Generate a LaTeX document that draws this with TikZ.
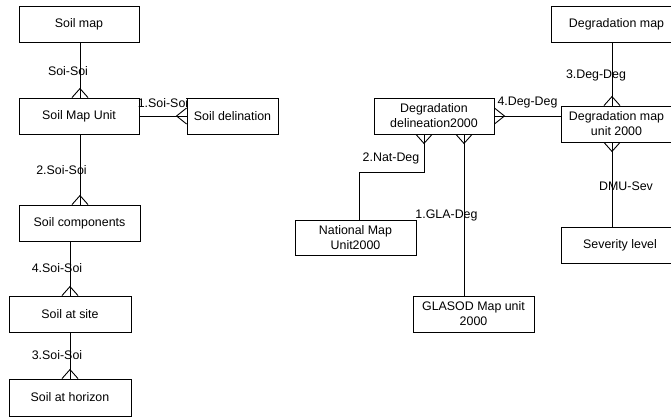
\documentclass[tikz,border=0pt]{standalone}
\usepackage{fontspec}
\setmainfont{Liberation Sans}
\usetikzlibrary{calc}
% crow's feet at a box edge; the toe points away from the box
\newcommand\footup[1]{\draw ($(#1)+(-8,0)$) -- ($(#1)+(0,-9)$) -- ($(#1)+(8,0)$);}
\newcommand\footdown[1]{\draw ($(#1)+(-8,0)$) -- ($(#1)+(0,9)$) -- ($(#1)+(8,0)$);}
\newcommand\footleft[1]{\draw ($(#1)+(0,-8)$) -- ($(#1)+(-10,0)$) -- ($(#1)+(0,8)$);}
\newcommand\footright[1]{\draw ($(#1)+(0,-8)$) -- ($(#1)+(10,0)$) -- ($(#1)+(0,8)$);}
\begin{document}
\begin{tikzpicture}[x=1pt,y=-1pt,line width=0.9pt,
  every node/.style={font=\fontsize{12.4}{15}\selectfont},
  entity/.style={draw,rectangle,inner sep=0pt,align=center,minimum height=36pt},
  lab/.style={inner sep=0pt}]
\useasboundingbox (0,0) rectangle (671,417);

% soil side
\node[entity,minimum width=120pt] (smap) at (79,24) {Soil map};
\node[entity,minimum width=120pt] (smu) at (79,116) {Soil Map Unit};
\node[entity,minimum width=91pt] (sdel) at (232.5,116) {Soil delination};
\node[entity,minimum width=121pt] (scomp) at (79.5,223) {Soil components};
\node[entity,minimum width=122pt] (ssite) at (70,314) {Soil at site};
\node[entity,minimum width=122pt,minimum height=37pt] (shor) at (70,397.5) {Soil at horizon};

% degradation side
\node[entity,minimum width=131pt] (dmap) at (616.5,24) {Degradation map};
\node[entity,minimum width=111pt] (dmu) at (616.5,124) {Degradation map\\unit 2000};
\node[entity,minimum width=120pt] (ddel) at (434,116) {Degradation\\delineation2000};
\node[entity,minimum width=121pt,minimum height=35pt] (nmu) at (355.5,237.5) {National Map\\Unit2000};
\node[entity,minimum width=121pt] (gmu) at (473.5,314) {GLASOD Map unit\\2000};
\node[entity,minimum width=118pt] (sev) at (620,245) {Severity level};

% connection points
\coordinate (smapB) at ($(smap.south)+(1,0)$);
\coordinate (smuT) at (smapB |- smu.north);
\coordinate (smuB) at (smapB |- smu.south);
\coordinate (scompT) at (smapB |- scomp.north);
\coordinate (scompB) at (ssite.north |- scomp.south);
\coordinate (dmapB) at ($(dmap.south)+(-4.5,0)$);
\coordinate (dmuT) at (dmapB |- dmu.north);
\coordinate (dmuB) at (dmapB |- dmu.south);
\coordinate (sevT) at (dmapB |- sev.north);
\coordinate (ddelB1) at ($(ddel.south)+(-10,0)$);
\coordinate (ddelB2) at ($(ddel.south)+(30,0)$);
\coordinate (bend1) at ($(ddelB1)+(0,38)$);
\coordinate (nmuT) at ($(nmu.north)+(3.5,0)$);
\coordinate (gmuT) at (ddelB2 |- gmu.north);
\coordinate (dmuL) at (dmu.west |- ddel.east);

% soil relationships
\draw (smapB) -- (smuT); \footup{smuT}
\draw (smu.east) -- (sdel.west); \footleft{sdel.west}
\draw (smuB) -- (scompT); \footup{scompT}
\draw (scompB) -- (ssite.north); \footup{ssite.north}
\draw (ssite.south) -- (shor.north); \footup{shor.north}

% degradation relationships
\draw (dmapB) -- (dmuT); \footup{dmuT}
\draw (ddel.east) -- (dmuL); \footright{ddel.east}
\draw (ddelB1) -- (bend1) -| (nmuT); \footdown{ddelB1}
\draw (ddelB2) -- (gmuT); \footdown{ddelB2}
\draw (dmuB) -- (sevT); \footdown{dmuB}

% relationship labels
\node[lab] (l1) at (68,71) {Soi-Soi};
\node[lab] (l2) at (163,103) {1.Soi-Soi};
\node[lab] (l3) at (61.5,170) {2.Soi-Soi};
\node[lab] (l4) at (57,268) {4.Soi-Soi};
\node[lab] (l5) at (57,355) {3.Soi-Soi};
\node[lab] (l6) at (596,75) {3.Deg-Deg};
\node[lab] (l7) at (527.5,103) {4.Deg-Deg};
\node[lab] (l8) at (391,158) {2.Nat-Deg};
\node[lab] (l9) at (446.5,215) {1.GLA-Deg};
\node[lab] (l10) at (626,186) {DMU-Sev};
\end{tikzpicture}
\end{document}
